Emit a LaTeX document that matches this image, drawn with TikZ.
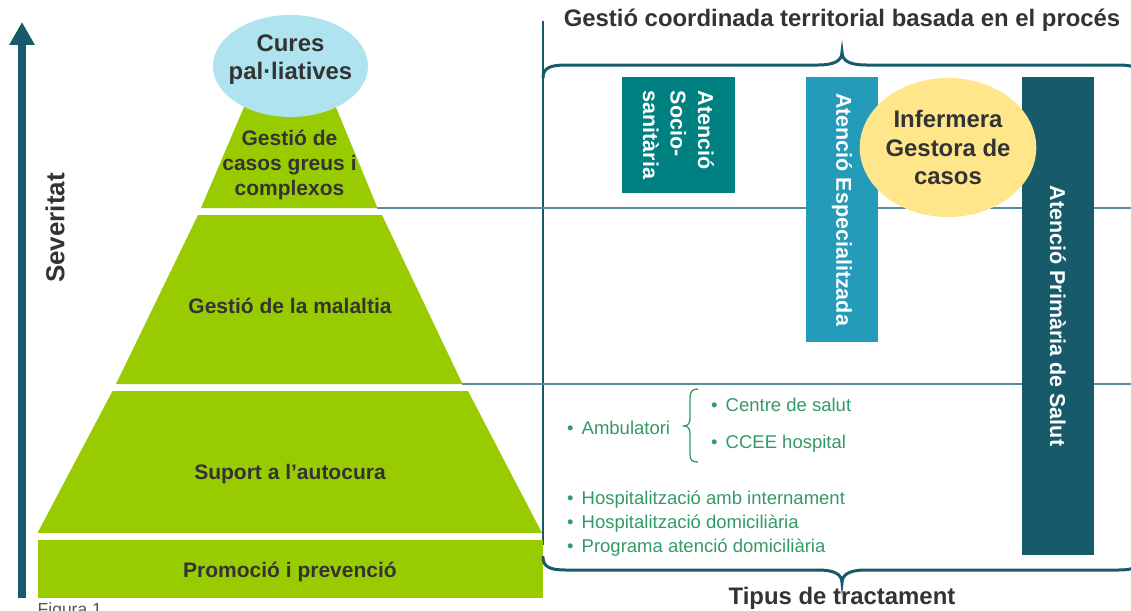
\documentclass[tikz,border=0pt]{standalone}
\usepackage{fontspec}
\setmainfont{Liberation Sans}
\usetikzlibrary{shapes.geometric,arrows.meta}
\definecolor{pgreen}{HTML}{99CC00}
\definecolor{txtdark}{HTML}{333333}
\definecolor{cpblue}{HTML}{AEE3EF}
\definecolor{igyellow}{HTML}{FFE68A}
\definecolor{sociocol}{HTML}{008080}
\definecolor{especol}{HTML}{239BB9}
\definecolor{primcol}{HTML}{175A69}
\definecolor{sepline}{HTML}{5A8D99}
\definecolor{listgreen}{HTML}{339966}
\definecolor{figgray}{HTML}{555555}
\newcommand{\bul}{\makebox[14.5pt][l]{•}}
\begin{document}
\begin{tikzpicture}[x=1pt,y=-1pt,
  tierlbl/.style={text=txtdark,font=\fontsize{21}{25}\selectfont\bfseries,align=center,inner sep=0},
  biglbl/.style={text=txtdark,font=\fontsize{23.9}{28.5}\selectfont\bfseries,align=center,inner sep=0},
  vbox/.style={rotate=-90,text=white,font=\fontsize{21.5}{27.5}\selectfont\bfseries,inner sep=0},
  listitem/.style={text=listgreen,font=\fontsize{18.5}{22}\selectfont,anchor=west,inner sep=0},
  brace/.style={primcol,line width=3,line cap=round},
  sep/.style={sepline,line width=2}]
\useasboundingbox (0,0) rectangle (1131,610);
\clip (0,0) rectangle (1131,610);

% coordinates for separators
\coordinate (vtop) at (543,21);
\coordinate (vbot) at (543,545);
\coordinate (h1a) at (377,208);
\coordinate (h1b) at (1131,208);
\coordinate (h2a) at (462,383.5);
\coordinate (h2b) at (1131,383.5);
\draw[primcol,line width=1.5] (vtop) -- (vbot);
\draw[sep] (h1a) -- (h1b);
\draw[sep] (h2a) -- (h2b);

% severity arrow
\coordinate (arrbot) at (22,598);
\coordinate (arrtop) at (22,22);
\draw[primcol,line width=8,-{Triangle[width=24pt,length=23pt]}] (arrbot) -- (arrtop);
\node[rotate=90,text=txtdark,font=\fontsize{26}{30}\selectfont\bfseries,inner sep=0] (sev) at (55,228) {Severitat};

% pyramid
\fill[pgreen] (247,100) -- (333,100) -- (377.5,208) -- (201,208) -- cycle;
\fill[pgreen] (198,215) -- (382,215) -- (462.5,384) -- (116,384) -- cycle;
\fill[pgreen] (112.5,391) -- (468,391) -- (542,533) -- (37.5,533) -- cycle;
\fill[pgreen] (37.5,540) rectangle (543,598);

\node[ellipse,fill=cpblue,minimum width=155,minimum height=102,inner sep=0] (cures) at (290.5,66) {};
\node[biglbl] (curestxt) at (290.5,59.5) {Cures\\pal·liatives};
\node[tierlbl] (t1) at (289.5,165) {Gestió de\\casos greus i\\complexos};
\node[tierlbl] (t2) at (290,306) {Gestió de la malaltia};
\node[tierlbl] (t3) at (290,474) {Suport a l’autocura};
\node[tierlbl] (t4) at (290,572) {Promoció i prevenció};
\node[text=figgray,font=\fontsize{17.5}{20}\selectfont,anchor=base west,inner sep=0] (fig) at (37.5,615) {Figura 1};

% braces
\coordinate (tbl) at (543,78);
\coordinate (tbc) at (842,52);
\coordinate (tbr) at (1141,78);
\draw[brace] (tbl) .. controls (543,68) and (550,65) .. (566,65) -- (818,65)
  .. controls (834,65) and (842,61) .. (tbc)
  .. controls (842,61) and (850,65) .. (866,65) -- (1118,65)
  .. controls (1134,65) and (1141,68) .. (tbr);
\coordinate (bbl) at (543,557);
\coordinate (bbc) at (842,583);
\coordinate (bbr) at (1141,557);
\draw[brace] (bbl) .. controls (543,567) and (550,570) .. (566,570) -- (818,570)
  .. controls (834,570) and (842,574) .. (bbc)
  .. controls (842,574) and (850,570) .. (866,570) -- (1118,570)
  .. controls (1134,570) and (1141,567) .. (bbr);
\node[biglbl,anchor=base] (toptitle) at (842,27) {Gestió coordinada territorial basada en el procés};
\node[biglbl,anchor=base] (bottitle) at (842,604) {Tipus de tractament};

% boxes
\node[vbox,fill=sociocol,minimum width=116,minimum height=113,align=left] (socio) at (678.5,135) {Atenció\\Socio-\\sanitària};
\node[vbox,fill=especol,minimum width=265,minimum height=72] (espe) at (842,209.5) {Atenció Especialitzada};
\node[vbox,fill=primcol,minimum width=478,minimum height=72] (prim) at (1058,316) {Atenció Primària de Salut};
\node[ellipse,fill=igyellow,minimum width=158,minimum height=139,inner sep=0,biglbl] (igc) at (948,147.5) {Infermera\\Gestora de\\casos};

% lists
\node[listitem] (amb) at (567,428) {\bul Ambulatori};
\node[listitem] (cds) at (711,404.5) {\bul Centre de salut};
\node[listitem] (ccee) at (711,443.5) {\bul CCEE hospital};
\node[listitem] (hai) at (567,499.5) {\bul Hospitalització amb internament};
\node[listitem] (hdo) at (567,523.5) {\bul Hospitalització domiciliària};
\node[listitem] (pad) at (567,547.5) {\bul Programa atenció domiciliària};
\coordinate (gbt) at (698,389);
\coordinate (gbm) at (684,426);
\coordinate (gbb) at (698,462);
\draw[listgreen,line width=1.3] (gbt) .. controls (692,389) and (690,392) .. (690,398) -- (690,418)
  .. controls (690,423) and (688,426) .. (gbm)
  .. controls (688,426) and (690,429) .. (690,434) -- (690,454)
  .. controls (690,460) and (692,462) .. (gbb);
\end{tikzpicture}
\end{document}
